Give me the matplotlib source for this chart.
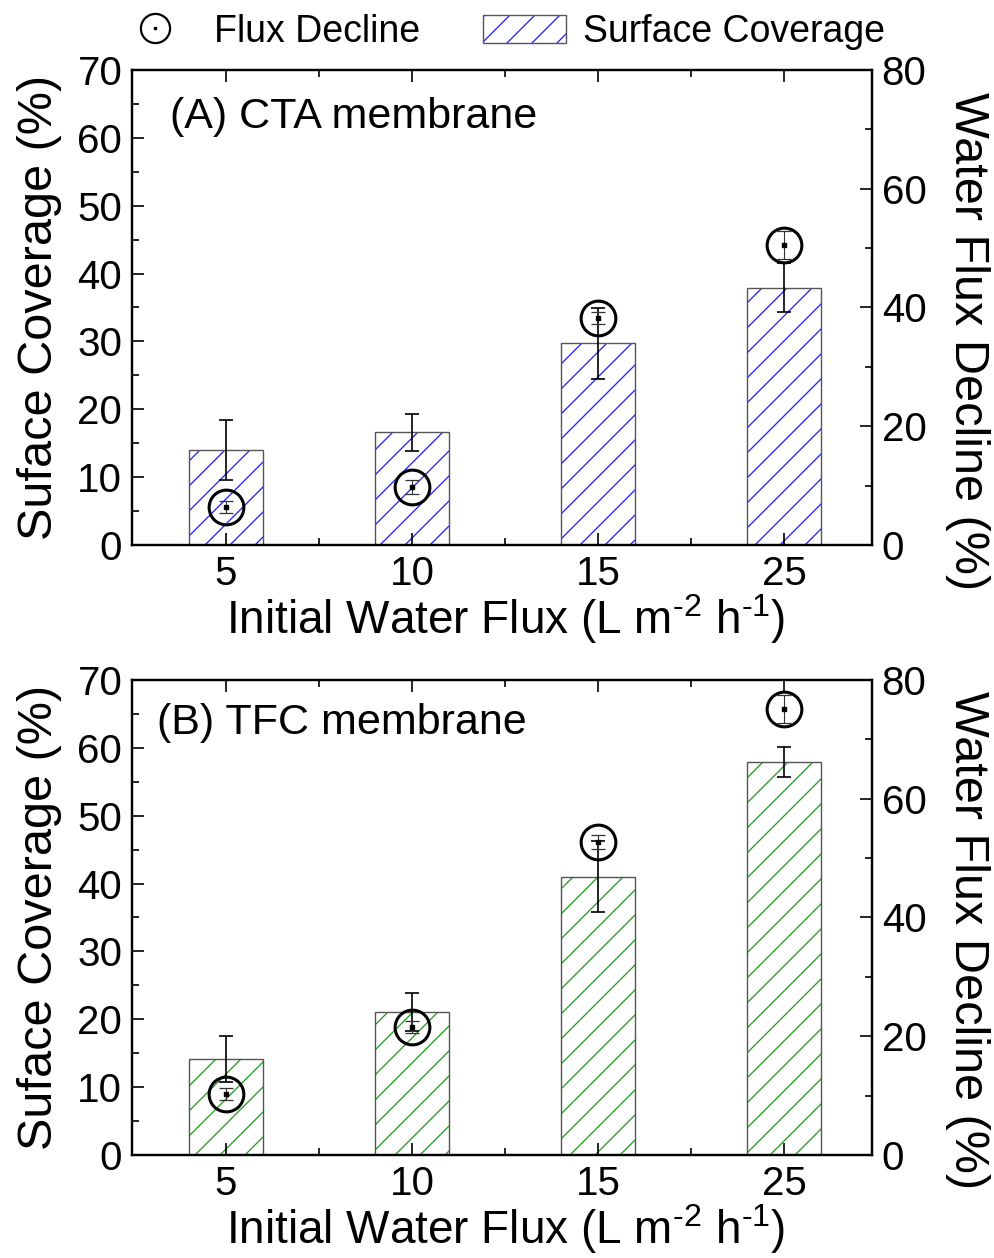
import matplotlib
matplotlib.use("Agg")
import matplotlib.pyplot as plt
import matplotlib.hatch as mhatch
from matplotlib.patches import Patch
from matplotlib.lines import Line2D
from matplotlib.ticker import MultipleLocator, FixedLocator

plt.rcParams["font.family"] = ["Liberation Sans", "DejaVu Sans"]
plt.rcParams["mathtext.fontset"] = "custom"
plt.rcParams["mathtext.rm"] = "Liberation Sans"
plt.rcParams["mathtext.it"] = "Liberation Sans"
plt.rcParams["hatch.linewidth"] = 0.9


# '/' is a bit too sparse and '//' too dense: 8 lines per tile (must be even to tile)
class MediumNorthEastHatch(mhatch.NorthEastHatch):
    def __init__(self, hatch, density):
        super().__init__(hatch, 8)


_i = mhatch._hatch_types.index(mhatch.NorthEastHatch)
mhatch._hatch_types[_i] = MediumNorthEastHatch

# Data
categories = ["5", "10", "15", "25"]

cta_coverage = [14.0, 16.6, 29.7, 37.9]
cta_coverage_err = [4.4, 2.7, 5.2, 3.6]
cta_decline = [6.4, 9.8, 38.2, 50.5]
cta_decline_err = [1.0, 1.2, 1.0, 2.4]

tfc_coverage = [14.1, 21.0, 41.0, 57.9]
tfc_coverage_err = [3.4, 2.8, 5.2, 2.2]
tfc_decline = [10.3, 21.5, 52.7, 75.1]
tfc_decline_err = [1.0, 1.0, 1.2, 2.4]

fig = plt.figure(figsize=(9.95, 12.58), dpi=100)
ax_top = fig.add_axes([0.1327, 0.5668, 0.7437, 0.3776])
ax_bot = fig.add_axes([0.1327, 0.0819, 0.7437, 0.3776])

xlabel = r"Initial Water Flux (L m$^{\text{-}2}$ h$^{\text{-}1}$)"


def draw_panel(ax, coverage, coverage_err, decline, decline_err, hatch_color,
               label, label_pos, right_label_y):
    x = list(range(1, len(categories) + 1))

    # hatched bars (hatch layer + grey outline)
    ax.bar(x, coverage, width=0.4, color="none", edgecolor=hatch_color,
           hatch="/", linewidth=0, zorder=1)
    ax.bar(x, coverage, width=0.4, fill=False, edgecolor="#555555",
           linewidth=1.0, zorder=2)
    ax.errorbar(x, coverage, yerr=coverage_err, fmt="none", ecolor="black",
                elinewidth=1.2, capsize=5, capthick=1.2, zorder=3)

    ax.set_xlim(0.495, 4.473)
    ax.set_ylim(0, 70)
    ax.set_xticks(x)
    ax.set_xticklabels(categories)
    ax.xaxis.set_minor_locator(FixedLocator([1.5, 2.5, 3.5]))
    ax.yaxis.set_major_locator(MultipleLocator(10))
    ax.yaxis.set_minor_locator(MultipleLocator(5))
    ax.tick_params(which="both", direction="in", top=True, right=False,
                   width=1.2, labelsize=29)
    ax.tick_params(which="major", length=8.5, pad=7)
    ax.tick_params(which="minor", length=5)
    for s in ax.spines.values():
        s.set_linewidth(1.6)

    ax.set_ylabel("Suface Coverage (%)", fontsize=35)
    ax.yaxis.set_label_coords(-0.095, 0.5)
    ax.set_xlabel(xlabel, fontsize=33)
    ax.xaxis.set_label_coords(0.505, -0.1)

    ax.text(label_pos[0], label_pos[1], label, transform=ax.transAxes,
            fontsize=31, ha="left", va="center")

    # flux decline on the right axis
    ax2 = ax.twinx()
    ax2.errorbar(x, decline, yerr=decline_err, fmt="none", ecolor="#333333",
                 elinewidth=0.8, capsize=5, capthick=0.9, zorder=3)
    ax2.plot(x, decline, "o", ms=25, mfc="none", mec="black", mew=2.2, zorder=4)
    ax2.plot(x, decline, "s", ms=2.2, color="black", zorder=5)
    ax2.set_ylim(0, 80)
    ax2.yaxis.set_major_locator(MultipleLocator(20))
    ax2.yaxis.set_minor_locator(MultipleLocator(10))
    ax2.tick_params(which="both", direction="in", width=1.2, labelsize=29)
    ax2.tick_params(which="major", length=8.5, pad=7)
    ax2.tick_params(which="minor", length=5)
    for s in ax2.spines.values():
        s.set_linewidth(1.6)
    ax2.set_ylabel("Water Flux Decline (%)", fontsize=35, rotation=270,
                   va="bottom")
    ax2.yaxis.set_label_coords(1.099, right_label_y)
    return ax2


draw_panel(ax_top, cta_coverage, cta_coverage_err, cta_decline, cta_decline_err,
           "#1a1aff", "(A) CTA membrane", (0.051, 0.9), 0.43)
draw_panel(ax_bot, tfc_coverage, tfc_coverage_err, tfc_decline, tfc_decline_err,
           "#1a9a1a", "(B) TFC membrane", (0.034, 0.91), 0.453)

# legend above the top panel
circle = Line2D([], [], marker="o", ms=21, mfc="none", mec="black", mew=1.6,
                linestyle="none")
dot = Line2D([], [], marker="s", ms=1.8, color="black", linestyle="none")
hatch_patch = Patch(facecolor="none", edgecolor="#1a1aff", hatch="/", linewidth=0)
outline = Patch(fill=False, edgecolor="#555555", linewidth=1.0)
fig.legend([(circle, dot), (hatch_patch, outline)],
           ["Flux Decline", "Surface Coverage"],
           loc="center", bbox_to_anchor=(0.502, 0.9746), ncol=2,
           frameon=False, fontsize=27, handlelength=2.2, handleheight=0.8,
           handletextpad=0.45, columnspacing=1.7, borderpad=0)

fig.savefig("out.png", dpi=100)
